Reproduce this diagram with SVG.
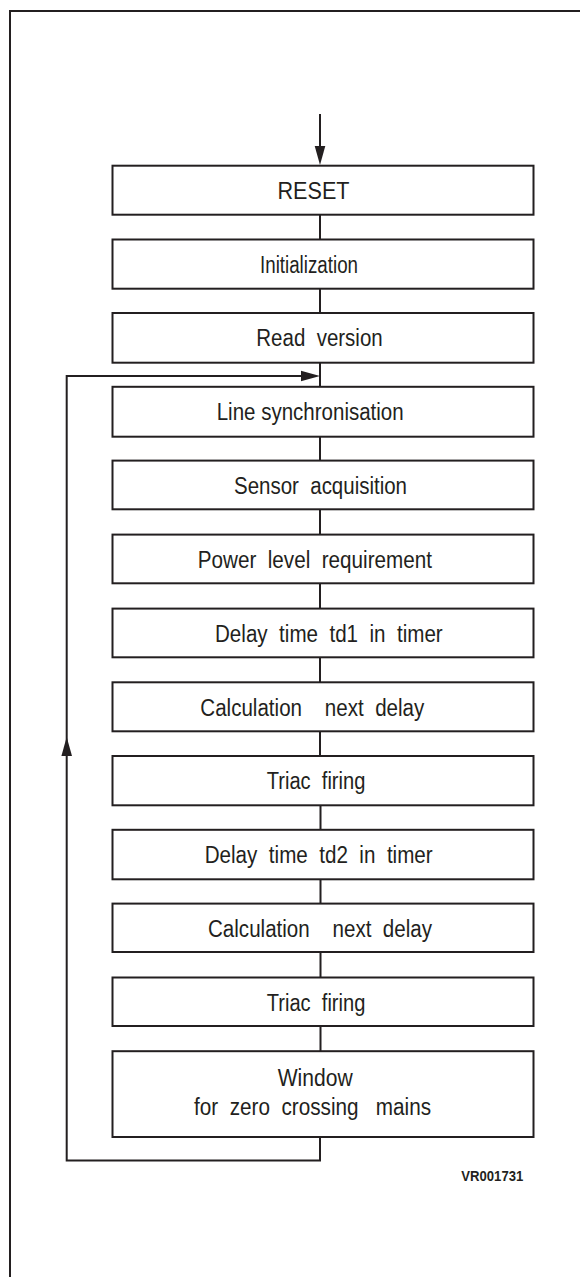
<svg xmlns="http://www.w3.org/2000/svg" width="580" height="1277" viewBox="0 0 580 1277">
<style>
.box{fill:#fff;stroke:#231f20;stroke-width:2}
.ln{fill:none;stroke:#231f20;stroke-width:2}
.t{font-family:"Liberation Sans",Arial,sans-serif;font-size:23px;fill:#231f20}
.id{font-family:"Liberation Sans",Arial,sans-serif;font-size:15px;font-weight:bold;fill:#231f20}
</style>
<defs>
<path id="ah" d="M0,0 L-19,-5.3 L-19,5.3 Z" fill="#231f20"/>
</defs>
<rect width="580" height="1277" fill="#fff"/>
<g id="frame">
<path class="ln" d="M10,1277 V11 H580"/>
</g>
<g id="connectors">
<line class="ln" x1="320" y1="114" x2="320" y2="150"/>
<use href="#ah" transform="translate(320,165) rotate(90)"/>
<path class="ln" d="M320,214.7 V239.5 M320,288.7 V313 M320,362.7 V386.8 M320,436.7 V460.6 M320,509.3 V534.6 M320,583.3 V608.6 M320,657.3 V682.3 M320,731.3 V756 M320.5,805.3 V829.8 M320.5,879.3 V903.6 M320.5,952 V977.5 M320.5,1026 V1051.2"/>
<path class="ln" d="M320,1137 V1160.5 H66.7 V376 H305"/>
<use href="#ah" transform="translate(320,376)"/>
<use href="#ah" transform="translate(66.7,737) rotate(-90)"/>
</g>
<g id="n0"><rect class="box" x="112.5" y="165.7" width="421" height="49"/><text class="t" x="277.5" y="199.2" textLength="72" lengthAdjust="spacingAndGlyphs">RESET</text></g>
<g id="n1"><rect class="box" x="112.5" y="239.5" width="421" height="49.2"/><text class="t" x="260" y="272.5" textLength="98" lengthAdjust="spacingAndGlyphs">Initialization</text></g>
<g id="n2"><rect class="box" x="112.5" y="313" width="421" height="49.7"/><text class="t" x="256.3" y="346.3" textLength="126.4" lengthAdjust="spacingAndGlyphs" xml:space="preserve">Read  version</text></g>
<g id="n3"><rect class="box" x="112.5" y="386.8" width="421" height="49.9"/><text class="t" x="216.7" y="420" textLength="187" lengthAdjust="spacingAndGlyphs">Line synchronisation</text></g>
<g id="n4"><rect class="box" x="112.5" y="460.6" width="421" height="48.7"/><text class="t" x="234" y="493.8" textLength="173" lengthAdjust="spacingAndGlyphs" xml:space="preserve">Sensor  acquisition</text></g>
<g id="n5"><rect class="box" x="112.5" y="534.6" width="421" height="48.7"/><text class="t" x="197.7" y="567.8" textLength="234.3" lengthAdjust="spacingAndGlyphs" xml:space="preserve">Power  level  requirement</text></g>
<g id="n6"><rect class="box" x="112.5" y="608.6" width="421" height="48.7"/><text class="t" x="215" y="641.8" textLength="227.7" lengthAdjust="spacingAndGlyphs" xml:space="preserve">Delay  time  td1  in  timer</text></g>
<g id="n7"><rect class="box" x="112.5" y="682.3" width="421" height="49"/><text class="t" x="200.3" y="715.6" textLength="224" lengthAdjust="spacingAndGlyphs" xml:space="preserve">Calculation    next  delay</text></g>
<g id="n8"><rect class="box" x="112.5" y="756" width="421" height="49.3"/><text class="t" x="266.7" y="789.3" textLength="98.7" lengthAdjust="spacingAndGlyphs" xml:space="preserve">Triac  firing</text></g>
<g id="n9"><rect class="box" x="112.5" y="829.8" width="421" height="49.5"/><text class="t" x="204.7" y="863.1" textLength="228" lengthAdjust="spacingAndGlyphs" xml:space="preserve">Delay  time  td2  in  timer</text></g>
<g id="n10"><rect class="box" x="112.5" y="903.6" width="421" height="48.4"/><text class="t" x="208" y="936.8" textLength="224" lengthAdjust="spacingAndGlyphs" xml:space="preserve">Calculation    next  delay</text></g>
<g id="n11"><rect class="box" x="112.5" y="977.5" width="421" height="48.5"/><text class="t" x="266.7" y="1010.7" textLength="98.7" lengthAdjust="spacingAndGlyphs" xml:space="preserve">Triac  firing</text></g>
<g id="n12"><rect class="box" x="112.5" y="1051.2" width="421" height="85.8"/><text class="t" x="277.7" y="1086" textLength="75" lengthAdjust="spacingAndGlyphs">Window</text><text class="t" x="194" y="1115" textLength="237" lengthAdjust="spacingAndGlyphs" xml:space="preserve">for  zero  crossing   mains</text></g>
<g id="label"><text class="id" x="461.3" y="1181" textLength="62" lengthAdjust="spacingAndGlyphs">VR001731</text></g>
</svg>
